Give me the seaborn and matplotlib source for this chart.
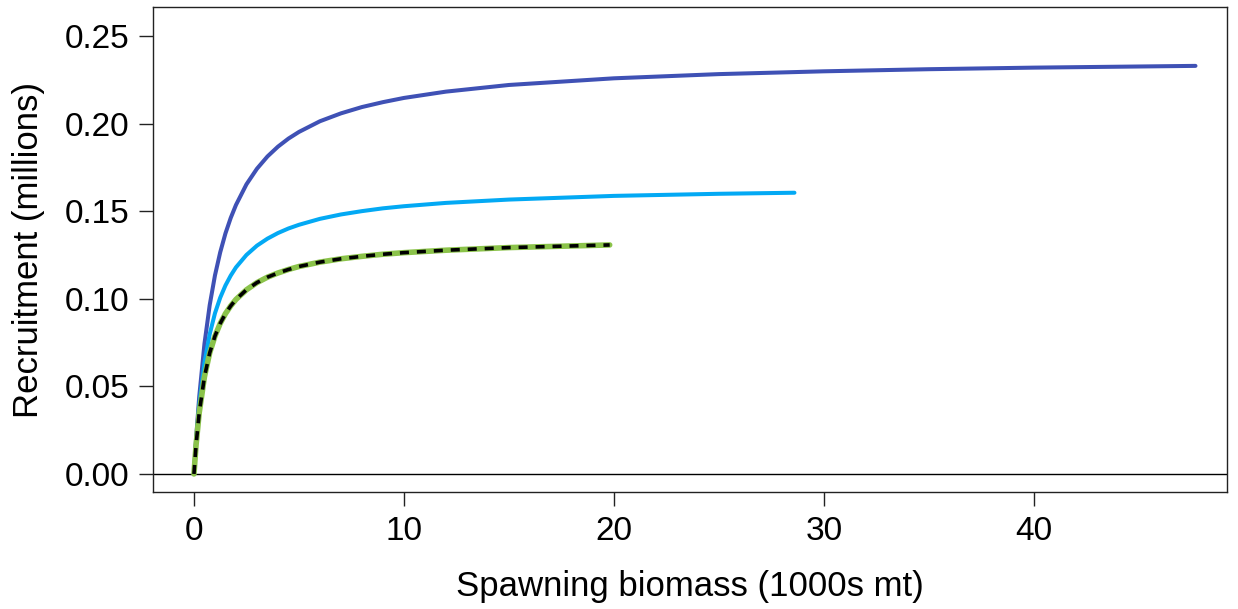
import matplotlib
matplotlib.use("Agg")
import matplotlib.pyplot as plt
import seaborn as sns
import pandas as pd

# Spawning biomass (1000s mt) and recruitment (millions) for each stock-recruit curve
biomass_a = [0, 0.1, 0.25, 0.5, 0.75, 1, 1.25, 1.5, 1.75, 2, 2.5, 3, 3.5, 4, 4.5, 5, 6, 7, 8, 9,
             10, 12, 15, 20, 25, 30, 35, 40, 47.7]
recruit_a = [0, 0.0198, 0.0440, 0.0743, 0.0964, 0.1133, 0.1265, 0.1373, 0.1461, 0.1535, 0.1653,
             0.1742, 0.1812, 0.1868, 0.1914, 0.1952, 0.2013, 0.2058, 0.2094, 0.2122,
             0.2146, 0.2182, 0.2220, 0.2258, 0.2282, 0.2298, 0.2310, 0.2319, 0.2329]

biomass_b = [0, 0.1, 0.25, 0.5, 0.75, 1, 1.25, 1.5, 1.75, 2, 2.5, 3, 3.5, 4, 4.5, 5, 6, 7, 8, 9,
             10, 12, 15, 20, 25, 28.6]
recruit_b = [0, 0.0183, 0.0393, 0.0635, 0.0798, 0.0917, 0.1006, 0.1076, 0.1132, 0.1179, 0.1250,
             0.1303, 0.1343, 0.1375, 0.1401, 0.1422, 0.1456, 0.1481, 0.1500, 0.1516,
             0.1528, 0.1547, 0.1566, 0.1587, 0.1599, 0.1605]

biomass_c = [0, 0.1, 0.25, 0.5, 0.75, 1, 1.25, 1.5, 1.75, 2, 2.5, 3, 3.5, 4, 4.5, 5, 6, 7, 8, 9,
             10, 12, 15, 19.8]
recruit_c = [0, 0.0165, 0.0349, 0.0555, 0.0691, 0.0787, 0.0859, 0.0915, 0.0959, 0.0996, 0.1051,
             0.1092, 0.1123, 0.1147, 0.1167, 0.1184, 0.1209, 0.1228, 0.1242, 0.1254,
             0.1263, 0.1277, 0.1292, 0.1307]

x_ticks = [0, 10, 20, 30, 40]
y_ticks = [0.00, 0.05, 0.10, 0.15, 0.20, 0.25]

sns.set_theme(style="ticks")
plt.rcParams["font.family"] = ["Liberation Sans", "DejaVu Sans"]

fig = plt.figure(figsize=(12.38, 6.09), dpi=100)
ax = fig.add_axes([0.1236, 0.1921, 0.8675, 0.7964])

df_a = pd.DataFrame({"S": biomass_a, "R": recruit_a})
df_b = pd.DataFrame({"S": biomass_b, "R": recruit_b})
df_c = pd.DataFrame({"S": biomass_c, "R": recruit_c})

ax.axhline(0, color="black", lw=1.0, zorder=1)

sns.lineplot(data=df_a, x="S", y="R", ax=ax, color="#3F51B5", lw=2.9,
             solid_capstyle="round", solid_joinstyle="round", sort=False, zorder=3)
sns.lineplot(data=df_b, x="S", y="R", ax=ax, color="#03A9F4", lw=2.9,
             solid_capstyle="round", solid_joinstyle="round", sort=False, zorder=3)
sns.lineplot(data=df_c, x="S", y="R", ax=ax, color="#8BC34A", lw=4.0,
             solid_capstyle="round", solid_joinstyle="round", sort=False, zorder=3)
dashed = sns.lineplot(data=df_c, x="S", y="R", ax=ax, color="black", lw=2.6,
                      sort=False, zorder=4).lines[-1]
dashed.set_dashes([2.5, 2.2])
dashed.set_dash_capstyle("butt")

ax.set_xlim(-1.95, 49.2)
ax.set_ylim(-0.0103, 0.2665)
ax.set_xticks(x_ticks)
ax.set_xticklabels([str(t) for t in x_ticks])
ax.set_yticks(y_ticks)
ax.set_yticklabels([f"{t:.2f}" for t in y_ticks])

for sp in ax.spines.values():
    sp.set_visible(True)
    sp.set_color("#222222")
    sp.set_linewidth(1.0)

ax.tick_params(axis="both", direction="out", length=10, width=1.0, color="#222222",
               labelsize=24, labelcolor="black", pad=7)
ax.set_xlabel("Spawning biomass (1000s mt)", fontsize=25, labelpad=17, color="black")
ax.set_ylabel("Recruitment (millions)", fontsize=25, labelpad=14, color="black")
ax.grid(False)
ax.set_facecolor("white")
fig.patch.set_facecolor("white")

fig.savefig("out.png", dpi=100)
